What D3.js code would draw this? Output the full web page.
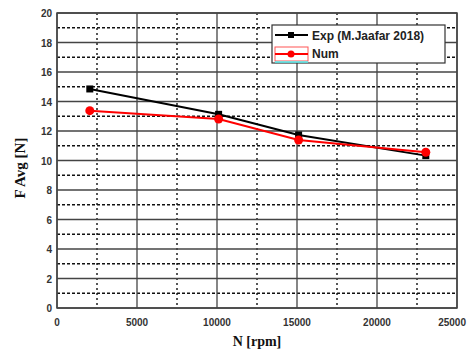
<!DOCTYPE html>
<html>
<head>
<meta charset="utf-8">
<script src="https://cdn.jsdelivr.net/npm/d3@7"></script>
<style>
  body { margin: 0; background: #fff; }
  svg { display: block; }
</style>
</head>
<body>
<svg width="467" height="356"></svg>
<script>
// data
var rpm = [2050, 10100, 15100, 23050];
var expForce = [14.85, 13.13, 11.73, 10.33];
var numForce = [13.38, 12.81, 11.39, 10.56];
var xTicks = [0, 5000, 10000, 15000, 20000, 25000];
var yTicks = [0, 2, 4, 6, 8, 10, 12, 14, 16, 18, 20];

(function() {
var svg = d3.select("svg"),
    pLeft = 57, pRight = 457, pTop = 13, pBottom = 308;

var x = d3.scaleLinear().domain([0, 25000]).range([pLeft, pRight]);
var y = d3.scaleLinear().domain([0, 20]).range([pBottom, pTop]);

// minor dotted grid
var grid = svg.append("g");
d3.range(2500, 25000, 5000).forEach(function(v) {
    grid.append("line")
        .attr("x1", x(v)).attr("x2", x(v)).attr("y1", pTop).attr("y2", pBottom)
        .attr("stroke", "#111").attr("stroke-width", 1.4).attr("stroke-dasharray", "2,3");
});
d3.range(1, 20, 2).forEach(function(v) {
    grid.append("line")
        .attr("x1", pLeft).attr("x2", pRight).attr("y1", y(v)).attr("y2", y(v))
        .attr("stroke", "#111").attr("stroke-width", 1.4).attr("stroke-dasharray", "3,2");
});
// major solid grid
xTicks.forEach(function(v) {
    grid.append("line")
        .attr("x1", x(v)).attr("x2", x(v)).attr("y1", pTop).attr("y2", pBottom)
        .attr("stroke", "#444").attr("stroke-width", 1.3);
});
yTicks.forEach(function(v) {
    grid.append("line")
        .attr("x1", pLeft).attr("x2", pRight).attr("y1", y(v)).attr("y2", y(v))
        .attr("stroke", "#444").attr("stroke-width", 1.3);
});
svg.append("rect")
    .attr("x", pLeft).attr("y", pTop).attr("width", pRight - pLeft).attr("height", pBottom - pTop)
    .attr("fill", "none").attr("stroke", "#444").attr("stroke-width", 1.5);

// tick labels
var tickFont = "Liberation Sans, Arial, sans-serif";
svg.append("g").selectAll("text").data(xTicks).enter().append("text")
    .attr("x", function(d, i) { return i === xTicks.length - 1 ? 466 : x(d); })
    .attr("y", 326)
    .attr("text-anchor", function(d, i) { return i === xTicks.length - 1 ? "end" : "middle"; })
    .attr("font-family", tickFont).attr("font-size", 10).attr("font-weight", "bold")
    .attr("fill", "#333")
    .text(function(d) { return d; });
svg.append("g").selectAll("text").data(yTicks).enter().append("text")
    .attr("x", 52)
    .attr("y", function(d) { return y(d) + 4; })
    .attr("text-anchor", "end")
    .attr("font-family", tickFont).attr("font-size", 10).attr("font-weight", "bold")
    .attr("fill", "#333")
    .text(function(d) { return d; });

// axis titles
svg.append("text")
    .attr("x", 257).attr("y", 346)
    .attr("text-anchor", "middle")
    .attr("font-family", "Liberation Serif, Times New Roman, serif")
    .attr("font-size", 14).attr("font-weight", "bold").attr("fill", "#111")
    .text("N [rpm]");
svg.append("text")
    .attr("transform", "translate(25,168) rotate(-90)")
    .attr("text-anchor", "middle")
    .attr("font-family", "Liberation Serif, Times New Roman, serif")
    .attr("font-size", 15).attr("font-weight", "bold").attr("fill", "#111")
    .text("F Avg [N]");

// series
var line = d3.line()
    .x(function(d) { return x(d[0]); })
    .y(function(d) { return y(d[1]); });
var expPts = d3.zip(rpm, expForce),
    numPts = d3.zip(rpm, numForce);

svg.append("path").datum(expPts).attr("d", line)
    .attr("fill", "none").attr("stroke", "#000").attr("stroke-width", 2);
svg.append("g").selectAll("rect").data(expPts).enter().append("rect")
    .attr("x", function(d) { return x(d[0]) - 3.5; })
    .attr("y", function(d) { return y(d[1]) - 3.5; })
    .attr("width", 7).attr("height", 7).attr("fill", "#000");

svg.append("path").datum(numPts).attr("d", line)
    .attr("fill", "none").attr("stroke", "#f00").attr("stroke-width", 2);
svg.append("g").selectAll("circle").data(numPts).enter().append("circle")
    .attr("cx", function(d) { return x(d[0]); })
    .attr("cy", function(d) { return y(d[1]); })
    .attr("r", 4.5).attr("fill", "#f00");

// legend
var lg = svg.append("g");
lg.append("rect")
    .attr("x", 272).attr("y", 25).attr("width", 173).attr("height", 38)
    .attr("fill", "#fff").attr("stroke", "#333").attr("stroke-width", 1.2);
lg.append("line").attr("x1", 275).attr("x2", 308).attr("y1", 35).attr("y2", 35)
    .attr("stroke", "#000").attr("stroke-width", 2);
lg.append("rect").attr("x", 288).attr("y", 32).attr("width", 6).attr("height", 6).attr("fill", "#000");
lg.append("rect").attr("x", 275).attr("y", 47).attr("width", 33).attr("height", 14)
    .attr("fill", "none").attr("stroke", "#f55").attr("stroke-width", 1);
lg.append("line").attr("x1", 275).attr("x2", 308).attr("y1", 54).attr("y2", 54)
    .attr("stroke", "#f00").attr("stroke-width", 2);
lg.append("circle").attr("cx", 291).attr("cy", 54).attr("r", 3.5).attr("fill", "#f00");
lg.append("line").attr("x1", 275).attr("x2", 308).attr("y1", 62).attr("y2", 62)
    .attr("stroke", "#5ee").attr("stroke-width", 1.5);
lg.append("text").attr("x", 312).attr("y", 40)
    .attr("font-family", tickFont).attr("font-size", 12).attr("font-weight", "bold").attr("fill", "#222")
    .text("Exp (M.Jaafar 2018)");
lg.append("text").attr("x", 312).attr("y", 58)
    .attr("font-family", tickFont).attr("font-size", 12).attr("font-weight", "bold").attr("fill", "#222")
    .text("Num");
})();
</script>
</body>
</html>
